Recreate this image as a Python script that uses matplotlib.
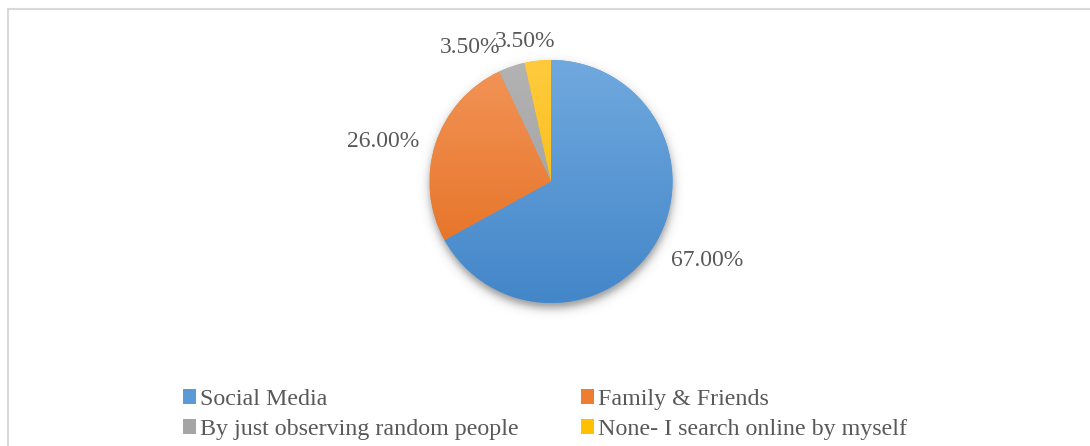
import numpy as np
import matplotlib.pyplot as plt
from matplotlib.colors import LinearSegmentedColormap
from matplotlib.patches import Rectangle, Patch

plt.rcParams['font.family'] = ['Liberation Serif', 'DejaVu Serif']

categories = ['Social Media', 'Family & Friends',
              'By just observing random people', 'None- I search online by myself']
shares = [67.0, 26.0, 3.5, 3.5]

# light (top) and dark (bottom) colour of each slice gradient
top_colors = ['#70a9de', '#f29558', '#b3b3b3', '#ffcb3e']
bottom_colors = ['#4386c9', '#e46b1c', '#9a9a9a', '#f5b500']
legend_colors = ['#5b9bd5', '#ed7d31', '#a5a5a5', '#ffc000']

# label anchor points (pie radius units) and alignment
label_xy = [(0.988, -0.695), (-1.086, 0.284), (-0.914, 1.058), (-0.461, 1.107)]
label_ha = ['left', 'right', 'left', 'left']

W, H = 1090, 446
cx, cy, R = 551, 181.5, 121.5

fig = plt.figure(figsize=(W / 100, H / 100), dpi=100)
ax = fig.add_axes([0, 0, 1, 1])
ax.set_xlim(-cx / R, (W - cx) / R)
ax.set_ylim(-(H - cy) / R, cy / R)
ax.axis('off')

# soft drop shadow under the pie
gx = np.linspace(-1.4, 1.4, 400)
gy = np.linspace(-1.4, 1.4, 400)
X, Y = np.meshgrid(gx, gy)
d = np.hypot(X, Y + 0.04)
shadow = np.zeros((400, 400, 4))
shadow[..., :3] = 0.25
shadow[..., 3] = 0.55 / (1 + np.exp((d - 1.0) / 0.022))
ax.imshow(shadow, extent=(-1.4, 1.4, -1.4, 1.4), origin='lower',
          zorder=1, interpolation='bilinear')

wedges, _ = ax.pie(shares, startangle=90, counterclock=False, radius=1,
                   colors=legend_colors, wedgeprops=dict(linewidth=0))
grad = np.linspace(0, 1, 256).reshape(-1, 1)
for w, c_top, c_bot in zip(wedges, top_colors, bottom_colors):
    w.set_zorder(2)
    cmap = LinearSegmentedColormap.from_list('g', [c_bot, c_top])
    im = ax.imshow(grad, extent=(-1, 1, -1, 1), origin='lower', cmap=cmap,
                   aspect='auto', zorder=3)
    im.set_clip_path(w)
ax.set_xlim(-cx / R, (W - cx) / R)
ax.set_ylim(-(H - cy) / R, cy / R)

for (tx, ty), ha, v in zip(label_xy, label_ha, shares):
    ax.text(tx, ty, f'{v:.2f}%', ha=ha, va='baseline', fontsize=17,
            color='#595959', zorder=5)

# chart area border
fig.patches.append(Rectangle((8 / W, -0.1), 1.2, (H - 9) / H + 0.1,
                             transform=fig.transFigure, fill=False,
                             edgecolor='#d9d9d9', linewidth=1.5))

# legend filled row by row
order = [0, 2, 1, 3]
handles = [Patch(facecolor=legend_colors[i], edgecolor='none') for i in order]
fig.legend(handles, [categories[i] for i in order], ncol=2, loc='upper left',
           bbox_to_anchor=(183 / W, 1 - 389 / H), frameon=False,
           fontsize=17.3, labelcolor='#595959', handlelength=0.55,
           handleheight=0.55, handletextpad=0.15, columnspacing=2.6,
           labelspacing=0.37, borderpad=0, borderaxespad=0)

fig.savefig('out.png', dpi=100, facecolor='white')
